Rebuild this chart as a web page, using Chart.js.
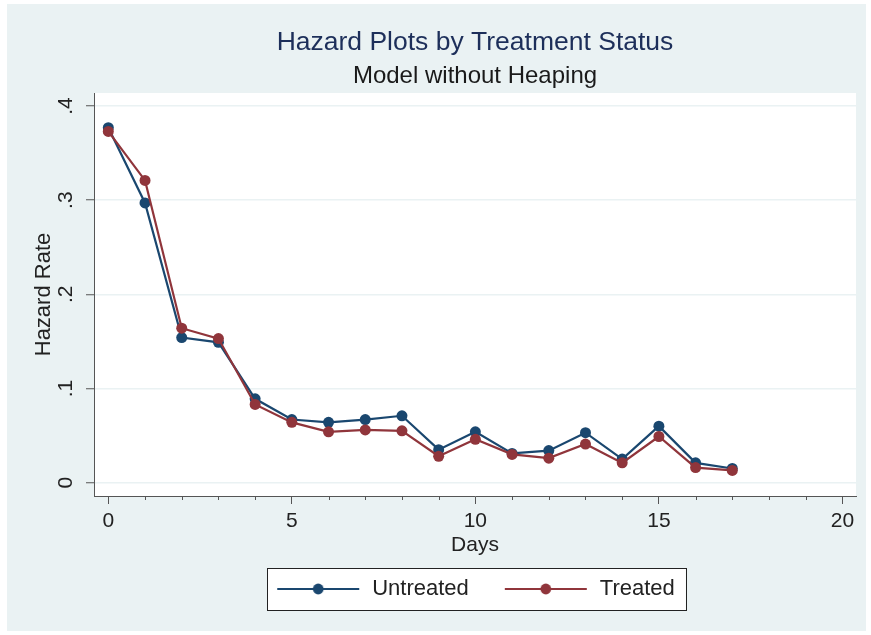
<!DOCTYPE html>
<html>
<head>
<meta charset="utf-8">
<script src="https://cdn.jsdelivr.net/npm/chart.js@4.4.1/dist/chart.umd.min.js"></script>
<style>
  html, body { margin: 0; padding: 0; background: #fff; }
  #wrap { position: absolute; left: 7px; top: 4px; width: 859px; height: 627px; }
</style>
</head>
<body>
<div id="wrap"><canvas id="hazardChart"></canvas></div>
<script>
// values
const days = [0, 1, 2, 3, 4, 5, 6, 7, 8, 9, 10, 11, 12, 13, 14, 15, 16, 17];
const untreated = [0.377, 0.297, 0.154, 0.149, 0.089, 0.067, 0.064, 0.067, 0.071, 0.035, 0.054, 0.031, 0.034, 0.053, 0.025, 0.060, 0.021, 0.015];
const treated = [0.373, 0.321, 0.164, 0.153, 0.083, 0.064, 0.054, 0.056, 0.055, 0.028, 0.046, 0.030, 0.026, 0.041, 0.021, 0.049, 0.016, 0.013];
const xTicks = [0, 5, 10, 15, 20];
const xMinorTicks = [1, 2, 3, 4, 6, 7, 8, 9, 11, 12, 13, 14, 16, 17, 18, 19];
const yTicks = [0, 0.1, 0.2, 0.3, 0.4];

const BLUE = "#1a476f";
const RED = "#90353b";
const BG = "#eaf2f3";
const AXIS = "#555";
const FONT = "'Liberation Sans', Arial, sans-serif";

// legend swatch: line with a dot in the middle
const makeSwatch = (color) => {
  const c = document.createElement("canvas");
  c.width = 86;
  c.height = 14;
  const g = c.getContext("2d");
  g.strokeStyle = color;
  g.lineWidth = 2;
  g.beginPath();
  g.moveTo(2, 7);
  g.lineTo(84, 7);
  g.stroke();
  g.fillStyle = color;
  g.beginPath();
  g.arc(43, 7, 5.4, 0, Math.PI * 2);
  g.fill();
  return c;
};

const backgroundPlugin = {
  id: "stataBackground",
  beforeDraw(chart) {
    const { ctx, chartArea: a } = chart;
    ctx.save();
    ctx.fillStyle = BG;
    ctx.fillRect(0, 0, chart.width, chart.height);
    ctx.fillStyle = "#fff";
    ctx.fillRect(a.left, a.top, a.right - a.left, a.bottom - a.top);

    // legend frame
    const boxes = chart.legend && chart.legend.legendHitBoxes;
    if (boxes && boxes.length) {
      const left = Math.min(...boxes.map((b) => b.left)) - 8;
      const right = Math.max(...boxes.map((b) => b.left + b.width)) + 11;
      const mid = boxes[0].top + boxes[0].height / 2;
      ctx.fillStyle = "#fff";
      ctx.fillRect(left, mid - 21, right - left, 42);
      ctx.strokeStyle = "#222";
      ctx.lineWidth = 1;
      ctx.strokeRect(Math.round(left) + 0.5, Math.round(mid - 21) + 0.5, Math.round(right - left), 42);
    }
    ctx.restore();
  },
  afterDraw(chart) {
    // short minor ticks on the x axis
    const { ctx, scales } = chart;
    const x = scales.x;
    ctx.save();
    ctx.strokeStyle = AXIS;
    ctx.lineWidth = 1;
    xMinorTicks.forEach((d) => {
      const px = Math.round(x.getPixelForValue(d)) + 0.5;
      ctx.beginPath();
      ctx.moveTo(px, x.top);
      ctx.lineTo(px, x.top + 4);
      ctx.stroke();
    });
    ctx.restore();
  },
};

const ctx = document.getElementById("hazardChart");
new Chart(ctx, {
  type: "line",
  data: {
    datasets: [
      {
        label: "Untreated",
        data: days.map((d, i) => ({ x: d, y: untreated[i] })),
        borderColor: BLUE,
        backgroundColor: BLUE,
        pointBackgroundColor: BLUE,
        borderWidth: 2.2,
        pointRadius: 5.5,
        pointBorderWidth: 0,
        order: 2,
      },
      {
        label: "Treated",
        data: days.map((d, i) => ({ x: d, y: treated[i] })),
        borderColor: RED,
        backgroundColor: RED,
        pointBackgroundColor: RED,
        borderWidth: 2.2,
        pointRadius: 5.5,
        pointBorderWidth: 0,
        order: 1,
      },
    ],
  },
  options: {
    responsive: true,
    maintainAspectRatio: false,
    animation: false,
    layout: { padding: { left: 0, right: 10, top: 0, bottom: 21 } },
    scales: {
      x: {
        type: "linear",
        min: -0.39,
        max: 20.37,
        afterBuildTicks: (scale) => {
          scale.ticks = xTicks.map((v) => ({ value: v }));
        },
        afterFit: (scale) => {
          scale.height = 48;
        },
        ticks: {
          autoSkip: false,
          maxRotation: 0,
          padding: 5,
          color: "#222",
          font: { family: FONT, size: 21 },
        },
        grid: {
          drawOnChartArea: false,
          drawTicks: true,
          tickLength: 8,
          tickColor: AXIS,
        },
        border: { color: AXIS, width: 1 },
        title: {
          display: true,
          text: "Days",
          color: "#222",
          font: { family: FONT, size: 21 },
          padding: { top: 0, bottom: -13.6 },
        },
      },
      y: {
        min: -0.0142,
        max: 0.4138,
        afterBuildTicks: (scale) => {
          scale.ticks = yTicks.map((v) => ({ value: v }));
        },
        afterFit: (scale) => {
          scale.width = 87;
        },
        ticks: {
          autoSkip: false,
          minRotation: 90,
          maxRotation: 90,
          crossAlign: "center",
          padding: 11,
          color: "#222",
          font: { family: FONT, size: 21 },
          callback: (v) => (v === 0 ? "0" : String(+v.toFixed(1)).replace("0.", ".")),
        },
        grid: {
          color: BG,
          lineWidth: 1.5,
          tickLength: 8,
          tickColor: AXIS,
          tickWidth: 1,
        },
        border: { color: AXIS, width: 1 },
        title: {
          display: true,
          text: "Hazard Rate",
          color: "#222",
          font: { family: FONT, size: 22 },
          padding: { top: 23.3 },
        },
      },
    },
    plugins: {
      title: {
        display: true,
        fullSize: false,
        text: "Hazard Plots by Treatment Status",
        color: "#1d2f5a",
        font: { family: FONT, size: 26.5, weight: "normal" },
        padding: { top: 22.9, bottom: 0 },
      },
      subtitle: {
        display: true,
        fullSize: false,
        text: "Model without Heaping",
        color: "#1a1a1a",
        font: { family: FONT, size: 24, weight: "normal" },
        padding: { top: 2.9, bottom: 2.6 },
      },
      legend: {
        position: "bottom",
        fullSize: false,
        labels: {
          usePointStyle: true,
          pointStyleWidth: 86,
          padding: 34,
          color: "#222",
          font: { family: FONT, size: 22 },
          generateLabels: (chart) =>
            chart.data.datasets.map((ds, i) => ({
              text: ds.label,
              fillStyle: ds.borderColor,
              strokeStyle: ds.borderColor,
              lineWidth: 0,
              pointStyle: makeSwatch(ds.borderColor),
              fontColor: "#222",
              hidden: false,
              datasetIndex: i,
            })),
        },
      },
      tooltip: { enabled: false },
    },
  },
  plugins: [backgroundPlugin],
});
</script>
</body>
</html>
